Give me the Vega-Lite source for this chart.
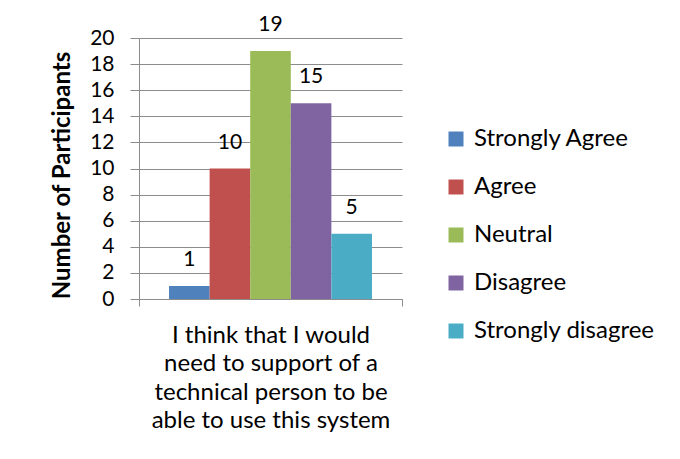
{
  "$schema": "https://vega.github.io/schema/vega-lite/v6.json",
  "width": 263,
  "height": 261,
  "autosize": {"type": "none"},
  "padding": {"left": 139, "top": 38, "right": 278, "bottom": 160},
  "background": "white",
  "config": {"view": {"stroke": null}, "font": "Lato"},
  "data": {
    "values": [
      {"question": "Q1", "response": "Strongly Agree", "count": 1},
      {"question": "Q1", "response": "Agree", "count": 10},
      {"question": "Q1", "response": "Neutral", "count": 19},
      {"question": "Q1", "response": "Disagree", "count": 15},
      {"question": "Q1", "response": "Strongly disagree", "count": 5}
    ]
  },
  "encoding": {
    "x": {
      "field": "question",
      "type": "nominal",
      "scale": {"paddingInner": 0, "paddingOuter": 0},
      "axis": {
        "labels": false,
        "tickBand": "extent",
        "tickSize": 7,
        "tickColor": "#8c8c8c",
        "domainColor": "#8c8c8c",
        "grid": false,
        "title": ["I think that I would", "need to support of a", "technical person to be", "able to use this system"],
        "titleFontSize": 24,
        "titleFontWeight": "normal",
        "titleColor": "black",
        "titleLineHeight": 28.5,
        "titleBaseline": "top",
        "titleY": 24
      }
    },
    "xOffset": {
      "field": "response",
      "type": "nominal",
      "sort": ["Strongly Agree", "Agree", "Neutral", "Disagree", "Strongly disagree"],
      "scale": {"paddingInner": 0, "paddingOuter": 0.74}
    },
    "y": {
      "field": "count",
      "type": "quantitative",
      "scale": {"domain": [0, 20]},
      "axis": {
        "values": [0, 2, 4, 6, 8, 10, 12, 14, 16, 18, 20],
        "grid": true,
        "gridColor": "#8c8c8c",
        "domainColor": "#8c8c8c",
        "tickColor": "#8c8c8c",
        "tickSize": 9,
        "labelFontSize": 21,
        "labelColor": "black",
        "labelPadding": 16,
        "title": "Number of Participants",
        "titleFontSize": 24,
        "titleFontWeight": "bold",
        "titleColor": "black",
        "titleX": -77,
        "titleY": 137,
        "titleAngle": -90,
        "titleAlign": "center",
        "titleBaseline": "middle"
      }
    }
  },
  "layer": [
    {
      "mark": {"type": "bar"},
      "encoding": {
        "color": {
          "field": "response",
          "type": "nominal",
          "sort": ["Strongly Agree", "Agree", "Neutral", "Disagree", "Strongly disagree"],
          "scale": {
            "domain": ["Strongly Agree", "Agree", "Neutral", "Disagree", "Strongly disagree"],
            "range": ["#4F81BD", "#C0504D", "#9BBB59", "#8064A2", "#4BACC6"]
          },
          "legend": {
            "title": null,
            "orient": "none",
            "legendX": 305,
            "legendY": 89,
            "symbolType": "square",
            "symbolSize": 225,
            "symbolStrokeWidth": 0,
            "symbolOpacity": 1,
            "labelFontSize": 24,
            "labelColor": "black",
            "labelOffset": 6,
            "rowPadding": 24,
            "labelLimit": 300
          }
        }
      }
    },
    {
      "mark": {"type": "text", "dy": -20, "baseline": "alphabetic", "fontSize": 21, "color": "black"},
      "encoding": {"text": {"field": "count", "type": "quantitative"}}
    }
  ]
}
